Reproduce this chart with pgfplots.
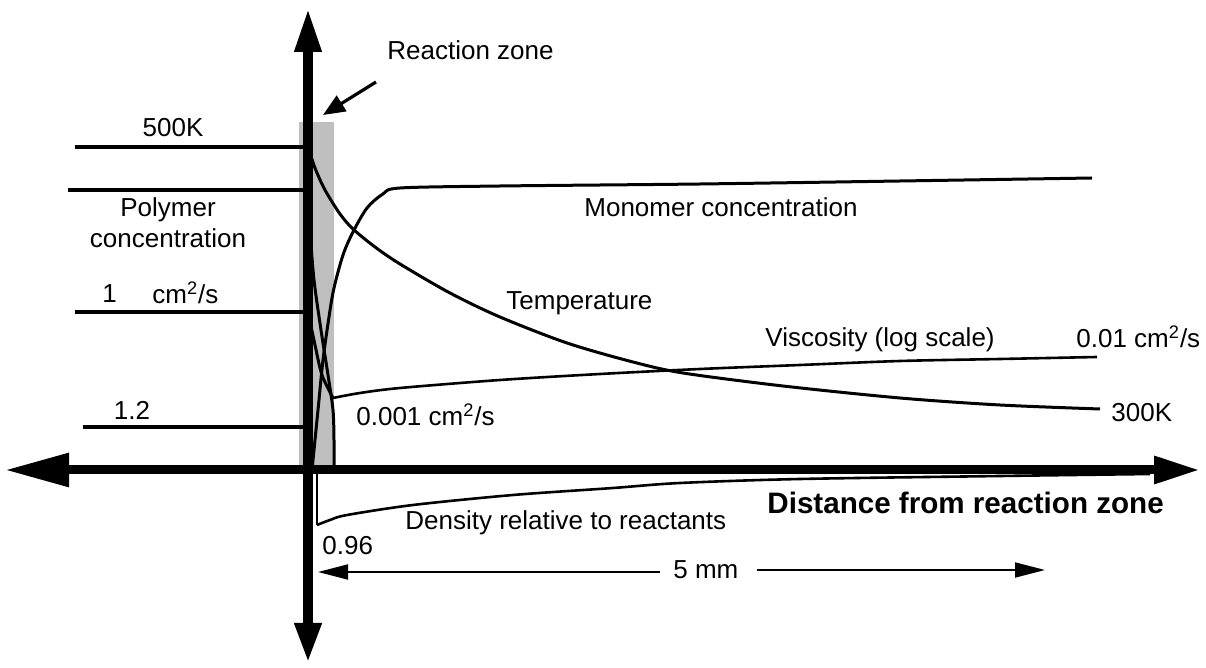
\documentclass[border=0pt]{standalone}
\usepackage{pgfplots}
\pgfplotsset{compat=1.18}
\usepackage{fontspec}
\setmainfont{Liberation Sans}
\usetikzlibrary{arrows.meta}
\begin{document}
\begin{tikzpicture}
\begin{axis}[
  width=603pt, height=333.5pt, scale only axis,
  xmin=0, xmax=1206, ymin=0, ymax=667, y dir=reverse,
  hide axis, clip=false,
]
\path (axis cs:0,0) rectangle (axis cs:1206,667);
% reaction zone shading
\fill[gray!50] (axis cs:299,122) rectangle (axis cs:334,470);
% left reference lines
\addplot[black, line width=1.9pt] coordinates {(75,147) (306,147)};
\addplot[black, line width=1.9pt] coordinates {(68,190) (306,190)};
\addplot[black, line width=1.9pt] coordinates {(75,312) (306,312)};
\addplot[black, line width=1.9pt] coordinates {(83,427) (306,427)};
% Temperature
\addplot[black, line width=1.5pt, smooth] coordinates {
(308,147) (315,168) (325,190) (340,214) (353,229) (375,247) (400,264) (450,293)
(500,317) (567,343) (633,362) (683,373) (783,386) (900,398) (1000,405) (1100,409)};
% Monomer concentration
\addplot[black, line width=1.5pt, smooth] coordinates {
(312,470) (318,410) (323,360) (329,317) (334,288) (343,255) (353,232) (367,208)
(383,194) (400,188) (500,186) (700,184) (900,181) (1092,178)};
% Polymer concentration
\addplot[black, line width=1.5pt, smooth] coordinates {
(308,190) (310,230) (314,280) (321,330) (328,375) (333,410) (334,440) (334,470)};
% Viscosity
\addplot[black, line width=1.5pt, smooth] coordinates {
(308,312) (315,345) (322,375) (333,398)};
\addplot[black, line width=1.3pt, smooth] coordinates {
(333,398) (360,393) (400,388) (500,380) (600,374) (700,369) (800,365) (900,361)
(1000,359) (1097,357)};
% Density
\addplot[black, line width=1.3pt] coordinates {(317,470) (317,525)};
\addplot[black, line width=1.3pt, smooth] coordinates {
(317,525) (330,520) (347,515) (413,505) (513,495) (613,488) (680,483) (800,479)
(1000,476) (1150,474)};
% axes
\draw[black, line width=4.5pt, -{Triangle[length=32pt,width=16pt]}] (axis cs:80,470) -- (axis cs:5,470);
\draw[black, line width=4.5pt, -{Triangle[length=23pt,width=13pt]}] (axis cs:60,470) -- (axis cs:1200,470);
\draw[black, line width=4.8pt, -{Triangle[length=22pt,width=12.5pt]}] (axis cs:308,470) -- (axis cs:308,8);
\draw[black, line width=4.8pt, -{Triangle[length=20pt,width=12.5pt]}] (axis cs:308,470) -- (axis cs:308,663);
% reaction zone pointer
\draw[black, line width=1.6pt, -{Triangle[length=11pt,width=9pt]}] (axis cs:376,82) -- (axis cs:323,115);
% 5 mm arrow
\draw[black, line width=0.9pt, -{Triangle[length=15pt,width=7.5pt]}] (axis cs:660,572) -- (axis cs:318,572);
\draw[black, line width=0.9pt, -{Triangle[length=15pt,width=7.5pt]}] (axis cs:757,570) -- (axis cs:1045,570);
% labels
\begin{scope}[every node/.style={font=\fontsize{13}{15}\selectfont, inner sep=0pt}]
\node[anchor=west] at (axis cs:387,50) {Reaction zone};
\node at (axis cs:173,128) {500K};
\node at (axis cs:168,210) {Polymer};
\node at (axis cs:168,238) {concentration};
\node[anchor=west] at (axis cs:102,294) {1};
\node[anchor=west] at (axis cs:152,293) {cm\textsuperscript{2}/s};
\node at (axis cs:132,410) {1.2};
\node[anchor=west] at (axis cs:584,207) {Monomer concentration};
\node[anchor=west] at (axis cs:506,303) {Temperature};
\node[anchor=west] at (axis cs:765,340) {Viscosity (log scale)};
\node[anchor=west] at (axis cs:1076,337) {0.01 cm\textsuperscript{2}/s};
\node[anchor=west] at (axis cs:1111,413) {300K};
\node[anchor=west] at (axis cs:356,415) {0.001 cm\textsuperscript{2}/s};
\node[anchor=west] at (axis cs:405,523) {Density relative to reactants};
\node[anchor=west] at (axis cs:322,546) {0.96};
\node[anchor=west] at (axis cs:673,570) {5 mm};
\node[anchor=west, font=\fontsize{14.8}{16}\selectfont\bfseries] at (axis cs:767,503) {Distance from reaction zone};
\end{scope}
\end{axis}
\end{tikzpicture}
\end{document}
